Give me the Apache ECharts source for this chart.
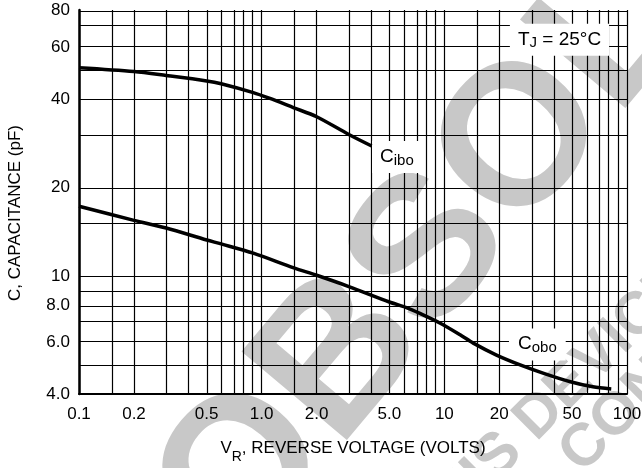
<!DOCTYPE html>
<html>
<head>
<meta charset="utf-8">
<script src="https://cdn.jsdelivr.net/npm/echarts@6/dist/echarts.min.js"></script>
<style>
  html, body { margin: 0; padding: 0; background: #fff; }
  #chart { width: 642px; height: 468px; }
</style>
</head>
<body>
<div id="chart"></div>
<script>
// capacitance vs reverse voltage
const cIboVolts = [0.1, 0.2, 0.3, 0.5, 0.6, 0.9, 1.1, 1.5, 2.0, 3.0, 4.0]
const cIboPf = [51, 49.5, 48, 46, 45, 42, 40.2, 37.3, 34.8, 30.3, 27.7]
const cOboVolts = [0.1, 0.2, 0.3, 0.5, 0.6, 0.9, 1.5, 2.0, 3.0, 5.0, 6.2, 7.35, 9.5, 12.2, 14.4, 19.3, 26, 35, 49, 65, 82]
const cOboPf = [17.3, 15.5, 14.6, 13.3, 12.9, 12.0, 10.7, 10.1, 9.25, 8.2, 7.85, 7.5, 6.95, 6.35, 5.95, 5.42, 5.02, 4.7, 4.4, 4.23, 4.16]

// log paper grid
const xGridVals = [0.1, 0.15, 0.2, 0.3, 0.4, 0.5, 0.6, 0.7, 0.8, 0.9,
  1, 1.5, 2, 3, 4, 5, 6, 7, 8, 9,
  10, 15, 20, 30, 40, 50, 60, 70, 80, 90, 100]
const yGridVals = [4, 5, 6, 7, 8, 9, 10, 15, 20, 30, 40, 50, 60, 70, 80]

// tick labels
const xTickVals = [0.1, 0.2, 0.5, 1, 2, 5, 10, 20, 50, 100]
const xTickLabels = ['0.1', '0.2', '0.5', '1.0', '2.0', '5.0', '10', '20', '50', '100']
const yTickVals = [4, 6, 8, 10, 20, 40, 60, 80]
const yTickLabels = ['4.0', '6.0', '8.0', '10', '20', '40', '60', '80']

const lg = Math.log10
const FONT = "'Liberation Sans', Arial, sans-serif"

const labelFor = (vals, labels) => (v) => {
  const i = vals.findIndex(t => Math.abs(lg(t) - v) < 1e-6)
  return i >= 0 ? labels[i] : ''
}

const toPoints = (xs, ys) => xs.map((x, i) => [lg(x), lg(ys[i])])

const chart = echarts.init(document.getElementById('chart'))

const boxLabel = (text, padding) => ({
  show: true,
  position: 'inside',
  formatter: text,
  backgroundColor: '#fff',
  padding: padding,
  color: '#000',
  rich: {
    c: { fontFamily: FONT, fontSize: 19, lineHeight: 20, color: '#000', verticalAlign: 'top' },
    s: { fontFamily: FONT, fontSize: 15, lineHeight: 15, color: '#000', verticalAlign: 'top', padding: [6, 0, 0, 0] }
  }
})

const watermark = (text, x, y, deg, size) => ({
  type: 'text', z: -10, silent: true,
  x: x, y: y, rotation: deg * Math.PI / 180,
  style: {
    text: text, fill: '#c8c8c8',
    font: 'bold ' + size + "px 'Liberation Sans', Arial, sans-serif",
    align: 'left', verticalAlign: 'middle',
    textAlign: 'left', textVerticalAlign: 'middle'
  }
})

const option = {
  animation: false,
  backgroundColor: '#fff',
  grid: {
    left: 79,
    right: 15,
    top: 10,
    bottom: 74,
    outerBoundsMode: 'none'
  },
  graphic: [
    watermark('OBSOLETE', 196, 534, 50, 200),
    watermark('THIS DEVICE', 416, 539, 45, 60),
    watermark('CONSULT', 570, 463, 45, 60)
  ],
  xAxis: {
    type: 'value',
    min: lg(0.1),
    max: lg(100),
    name: '{a|V}{s|R}{a|, REVERSE VOLTAGE (VOLTS)}',
    nameLocation: 'middle',
    nameGap: 46,
    nameTextStyle: {
      rich: {
        a: { fontFamily: FONT, fontSize: 17, lineHeight: 18, color: '#000', verticalAlign: 'top' },
        s: { fontFamily: FONT, fontSize: 14, lineHeight: 14, color: '#000', verticalAlign: 'top', padding: [10, 0, 0, 0] }
      }
    },
    axisLine: { show: true, onZero: false, lineStyle: { color: '#000', width: 2 } },
    axisTick: { show: false },
    splitLine: { show: false },
    axisLabel: {
      customValues: xTickVals.map(lg),
      formatter: labelFor(xTickVals, xTickLabels),
      margin: 12,
      color: '#000',
      fontFamily: FONT,
      fontSize: 17
    }
  },
  yAxis: {
    type: 'value',
    min: lg(4),
    max: lg(80),
    name: 'C, CAPACITANCE (pF)',
    nameLocation: 'middle',
    nameGap: 55,
    nameTextStyle: {
      fontFamily: FONT,
      fontSize: 17,
      color: '#000',
      padding: [0, 22, 0, 0]
    },
    axisLine: { show: true, onZero: false, lineStyle: { color: '#000', width: 2.5 } },
    axisTick: { show: false },
    splitLine: { show: false },
    axisLabel: {
      customValues: yTickVals.map(lg),
      formatter: labelFor(yTickVals, yTickLabels),
      margin: 9,
      color: '#000',
      fontFamily: FONT,
      fontSize: 17
    }
  },
  series: [
    {
      name: 'grid',
      type: 'line',
      data: [],
      z: 1,
      silent: true,
      markLine: {
        silent: true,
        symbol: ['none', 'none'],
        label: { show: false },
        emphasis: { disabled: true },
        lineStyle: { color: '#000', width: 1.2, type: 'solid' },
        data: [
          ...xGridVals.map(v => ({ xAxis: lg(v) })),
          ...yGridVals.map(v => ({ yAxis: lg(v) }))
        ]
      }
    },
    {
      name: 'notes',
      type: 'line',
      data: [],
      z: 4,
      silent: true,
      markPoint: {
        silent: true,
        symbol: 'rect',
        symbolSize: 1,
        itemStyle: { color: 'rgba(0,0,0,0)' },
        data: [
          { coord: [lg(5.5), lg(25.4)], label: boxLabel('{c|C}{s|ibo}', [6, 8, 6, 8]) },
          { coord: [lg(32.3), lg(5.89)], label: boxLabel('{c|C}{s|obo}', [6, 9, 6, 9]) },
          { coord: [lg(42.7), lg(63.4)], label: boxLabel('{c|T}{s|J}{c| = 25°C}', [6, 8, 6, 8]) }
        ]
      }
    },
    {
      name: 'Cibo',
      type: 'line',
      z: 6,
      smooth: 0.3,
      showSymbol: false,
      lineStyle: { color: '#000', width: 3.5 },
      data: toPoints(cIboVolts, cIboPf)
    },
    {
      name: 'Cobo',
      type: 'line',
      z: 6,
      smooth: 0.3,
      showSymbol: false,
      lineStyle: { color: '#000', width: 3.5 },
      data: toPoints(cOboVolts, cOboPf)
    }
  ]
}

chart.setOption(option)
</script>
</body>
</html>
